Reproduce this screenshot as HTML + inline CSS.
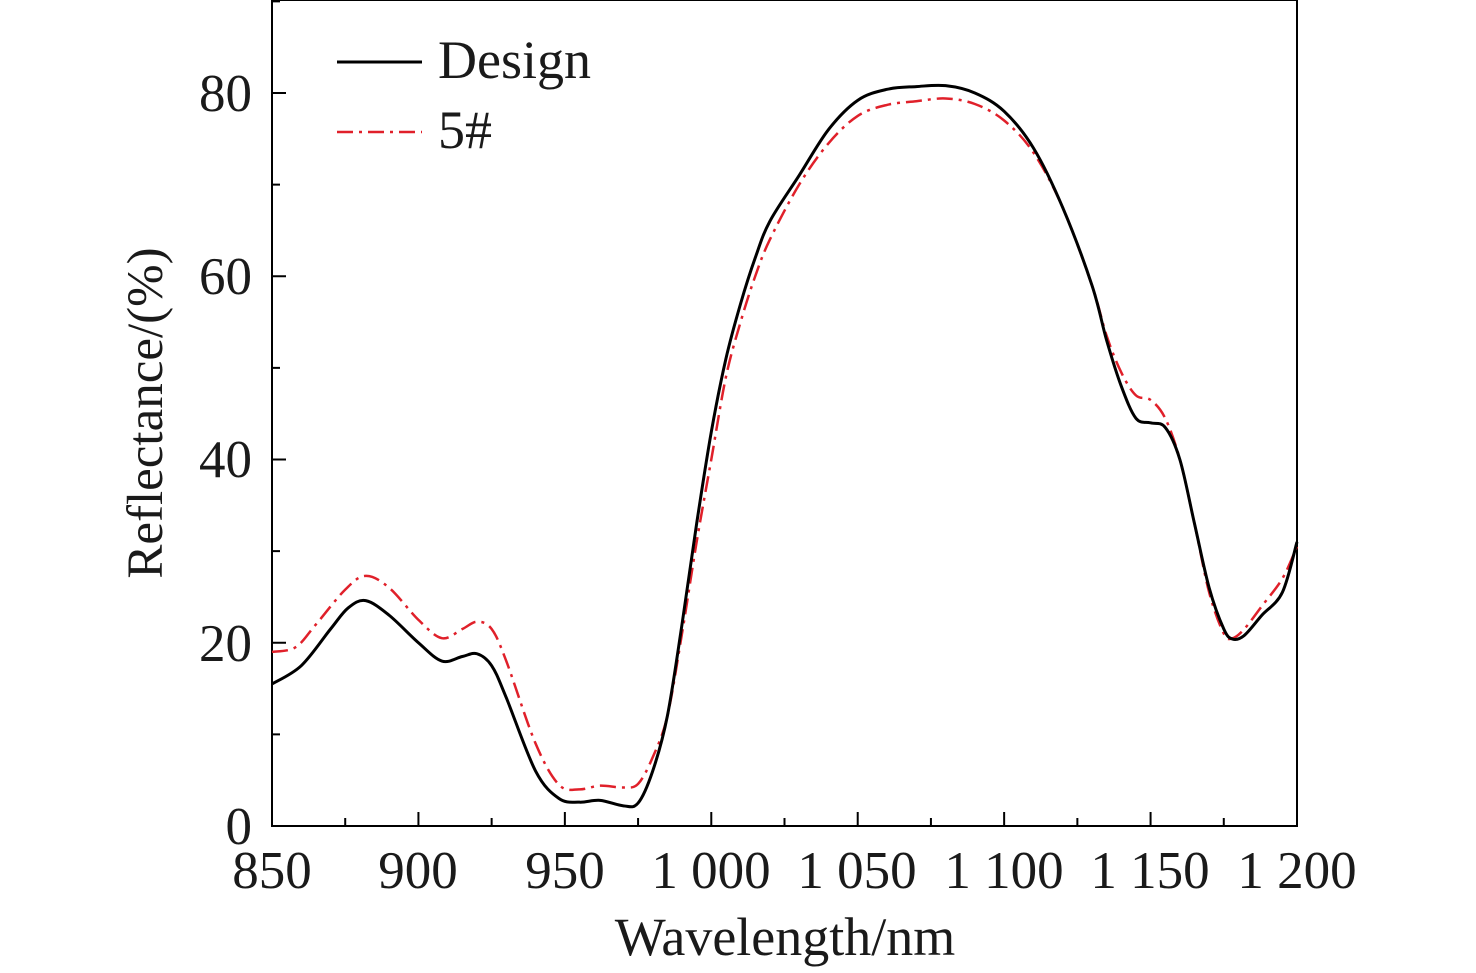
<!DOCTYPE html>
<html><head><meta charset="utf-8"><style>
html,body{margin:0;padding:0;background:#fff;}
svg{display:block;font-family:"Liberation Serif",serif;}
</style></head><body>
<svg id="s" width="1476" height="973" viewBox="0 0 1476 973">
<rect x="272" y="0" width="1025" height="826" fill="none" stroke="#000" stroke-width="2"/>
<g id="ticks" stroke="#000" stroke-width="2"></g>
<g font-size="53" text-anchor="middle" fill="#1a1a1a">
<text x="272" y="888">850</text><text x="418" y="888">900</text><text x="565" y="888">950</text>
<text x="711" y="888">1 000</text><text x="857" y="888">1 050</text><text x="1004" y="888">1 100</text>
<text x="1150" y="888">1 150</text><text x="1297" y="888">1 200</text>
</g>
<g font-size="53" text-anchor="end" fill="#1a1a1a">
<text x="252" y="844">0</text><text x="252" y="661">20</text><text x="252" y="477">40</text>
<text x="252" y="294">60</text><text x="252" y="111">80</text>
</g>
<text x="785" y="955" font-size="54" text-anchor="middle" fill="#1a1a1a">Wavelength/nm</text>
<text transform="translate(162,413) rotate(-90)" font-size="51" text-anchor="middle" fill="#1a1a1a">Reflectance/(%)</text>
<line x1="337" y1="62" x2="422" y2="62" stroke="#000" stroke-width="3"/>
<text x="438" y="78" font-size="54" fill="#1a1a1a">Design</text>
<line x1="337" y1="132" x2="422" y2="132" stroke="#e0202a" stroke-width="2.5" stroke-dasharray="16,6,3,6"/>
<text x="438" y="148" font-size="54" fill="#1a1a1a">5#</text>
<path id="red" fill="none" stroke="#e0202a" stroke-width="2.5" stroke-dasharray="16,6,3,6"/>
<path id="blk" fill="none" stroke="#000" stroke-width="3"/>
</svg>
<script>
var X=function(w){return 272+(w-850)*1025/350;},Y=function(v){return 826-v*9.1625;};
var t=document.getElementById('ticks'),h='';
for(var w=850;w<=1200;w+=25){var x=X(w),l=(w%50==0)?14:8;h+='<line x1="'+x+'" y1="826" x2="'+x+'" y2="'+(826-l)+'"/>';}
for(var v=0;v<=90;v+=10){var y=Y(v),l=(v%20==0)?14:8;h+='<line x1="272" y1="'+y+'" x2="'+(272+l)+'" y2="'+y+'"/>';}
t.innerHTML=h;
var B=[[850,15.5],[860,17.5],[870,21.5],[876,23.8],[882,24.6],[890,23],[900,20],[908,18],[915,18.5],[920,18.8],[925,17.5],[930,14],[940,6],[948,3],[955,2.6],[962,2.8],[970,2.2],[975,2.5],[980,6],[985,12],[990,22],[995,33],[1000,43],[1005,51],[1010,57],[1015,62],[1020,66],[1030,71],[1040,76],[1050,79.2],[1060,80.4],[1070,80.7],[1080,80.8],[1090,80],[1100,78],[1110,74],[1120,67.5],[1130,59],[1135,53],[1140,48],[1145,44.5],[1150,44],[1155,43.5],[1160,40],[1165,33],[1170,26],[1175,21.5],[1178,20.4],[1182,20.8],[1188,23],[1195,25.5],[1200,31]];
var R=[[850,19],[858,19.5],[865,22],[875,25.8],[882,27.3],[890,26],[900,22.5],[908,20.5],[915,21.5],[920,22.3],[925,21.5],[930,18],[940,9],[948,4.5],[955,4],[962,4.4],[970,4.2],[975,4.6],[980,7.5],[985,12],[990,21],[995,31],[1000,40],[1005,49],[1010,55],[1015,60],[1020,64],[1030,70],[1040,74.5],[1050,77.5],[1060,78.7],[1070,79.1],[1080,79.4],[1090,78.8],[1100,77],[1110,73.5],[1120,67.5],[1130,59],[1135,53.5],[1140,49.5],[1145,47],[1150,46.5],[1155,44.5],[1160,40],[1165,33],[1170,25.5],[1175,21],[1178,20.5],[1182,21.5],[1188,24],[1195,27],[1200,30.5]];
function path(d){var p=d.map(function(a){return [X(a[0]),Y(a[1])];});var s='M'+p[0][0]+','+p[0][1];
for(var i=0;i<p.length-1;i++){var p0=p[i-1]||p[i],p1=p[i],p2=p[i+1],p3=p[i+2]||p2;
s+='C'+(p1[0]+(p2[0]-p0[0])/6)+','+(p1[1]+(p2[1]-p0[1])/6)+' '+(p2[0]-(p3[0]-p1[0])/6)+','+(p2[1]-(p3[1]-p1[1])/6)+' '+p2[0]+','+p2[1];}return s;}
document.getElementById('blk').setAttribute('d',path(B));
document.getElementById('red').setAttribute('d',path(R));
</script>
</body></html>
